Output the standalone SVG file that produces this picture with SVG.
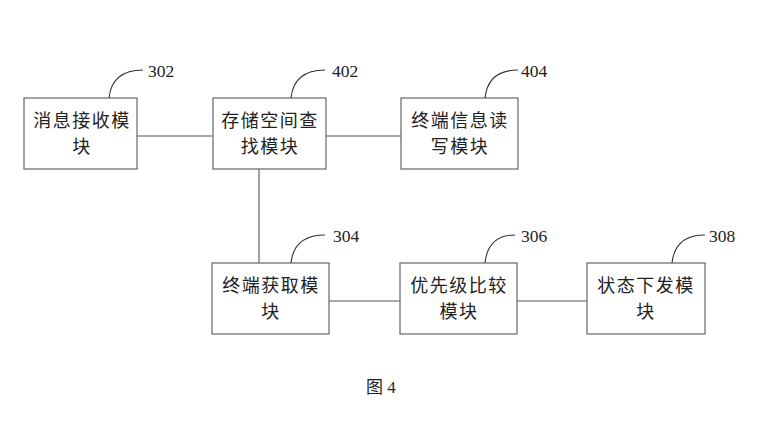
<svg xmlns="http://www.w3.org/2000/svg" width="766" height="422" viewBox="0 0 766 422">
<style>
.box{fill:#fff;stroke:#666;stroke-width:1.2}
.t{font-family:"Noto Sans CJK SC","Liberation Serif",sans-serif;font-size:18px;fill:#222;text-anchor:middle;letter-spacing:1.5px}
.n{font-family:"Liberation Serif",serif;font-size:17.5px;fill:#222}
.c{fill:none;stroke:#555;stroke-width:1.1}
.lead{fill:none;stroke:#333;stroke-width:1.1}
</style>
<rect width="766" height="422" fill="#fff"/>
<g id="connectors">
<line class="c" x1="137" y1="136" x2="213" y2="136"/>
<line class="c" x1="326" y1="136" x2="401" y2="136"/>
<line class="c" x1="259" y1="169" x2="259" y2="263"/>
<line class="c" x1="329" y1="301" x2="400" y2="301"/>
<line class="c" x1="517" y1="301" x2="587" y2="301"/>
</g>
<g id="n302">
<rect class="box" x="24" y="98" width="113" height="71"/>
<text class="t" x="82" y="127">消息接收模</text>
<text class="t" x="82" y="153">块</text>
<path class="lead" d="M109,98 Q112,70 143,70"/>
<text class="n" x="148" y="77">302</text>
</g>
<g id="n402">
<rect class="box" x="213" y="98" width="113" height="71"/>
<text class="t" x="270" y="127">存储空间查</text>
<text class="t" x="270" y="153">找模块</text>
<path class="lead" d="M291,98 Q294,70 325,70"/>
<text class="n" x="332" y="77">402</text>
</g>
<g id="n404">
<rect class="box" x="401" y="98" width="117" height="71"/>
<text class="t" x="460" y="127">终端信息读</text>
<text class="t" x="460" y="153">写模块</text>
<path class="lead" d="M485,98 Q488,70 518,70"/>
<text class="n" x="521" y="77">404</text>
</g>
<g id="n304">
<rect class="box" x="212" y="263" width="117" height="71"/>
<text class="t" x="271" y="292">终端获取模</text>
<text class="t" x="271" y="318">块</text>
<path class="lead" d="M291,263 Q294,235 325,235"/>
<text class="n" x="333" y="242">304</text>
</g>
<g id="n306">
<rect class="box" x="400" y="263" width="117" height="71"/>
<text class="t" x="459" y="292">优先级比较</text>
<text class="t" x="459" y="318">模块</text>
<path class="lead" d="M485,263 Q488,235 515,235"/>
<text class="n" x="521" y="242">306</text>
</g>
<g id="n308">
<rect class="box" x="587" y="263" width="118" height="71"/>
<text class="t" x="646" y="292">状态下发模</text>
<text class="t" x="646" y="318">块</text>
<path class="lead" d="M672,263 Q675,235 705,235"/>
<text class="n" x="709" y="242">308</text>
</g>
<text x="366" y="393" style="font-family:'Liberation Serif','Noto Sans CJK SC',serif;font-size:17px;fill:#222">图 4</text>
</svg>
